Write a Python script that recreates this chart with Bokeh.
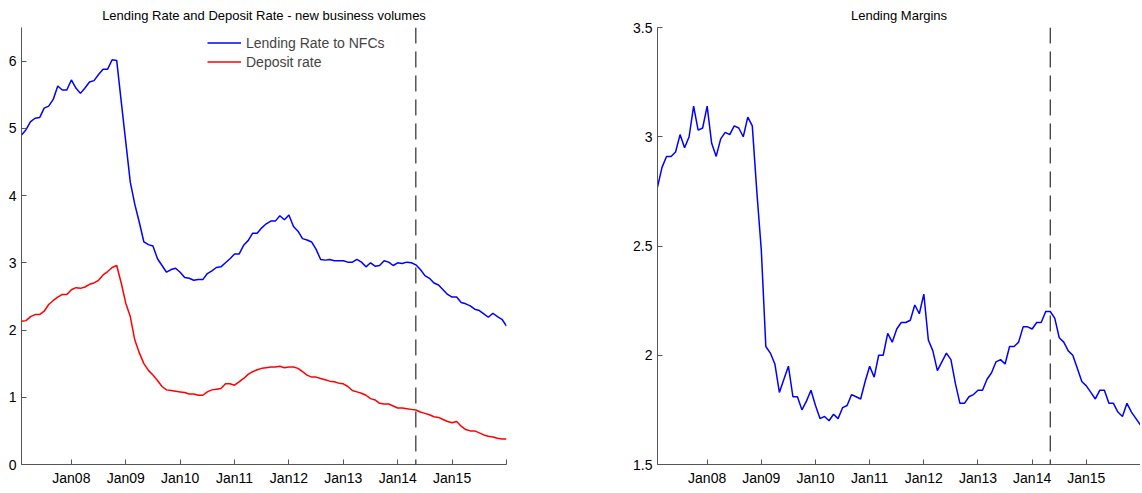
from bokeh.plotting import figure
from bokeh.layouts import row
from bokeh.models import Legend, LegendItem, Span, Range1d, FixedTicker
from bokeh.embed import file_html
from bokeh.resources import INLINE

# monthly data, Feb 2007 .. Jan 2016
lending_rate = [
    4.90, 4.98, 5.10, 5.15, 5.16, 5.30, 5.33, 5.43, 5.63, 5.57, 5.57,
    5.72, 5.60, 5.52, 5.60, 5.69, 5.71, 5.80, 5.88, 5.88, 6.02, 6.01, 5.40,
    4.80, 4.20, 3.87, 3.60, 3.31, 3.27, 3.25, 3.06, 2.96, 2.86, 2.90, 2.92,
    2.86, 2.78, 2.77, 2.74, 2.75, 2.75, 2.84, 2.88, 2.93, 2.94, 3.00, 3.06,
    3.13, 3.13, 3.26, 3.33, 3.44, 3.44, 3.52, 3.58, 3.62, 3.62, 3.70, 3.64,
    3.71, 3.54, 3.47, 3.36, 3.34, 3.31, 3.20, 3.05, 3.04, 3.05, 3.03, 3.03,
    3.03, 3.01, 3.01, 3.05, 3.01, 2.94, 3.00, 2.95, 2.96, 3.03, 3.01, 2.96,
    3.00, 2.99, 3.01, 3.00, 2.97, 2.90, 2.81, 2.77, 2.70, 2.67, 2.60, 2.53,
    2.49, 2.49, 2.41, 2.39, 2.36, 2.31, 2.29, 2.24, 2.19, 2.25, 2.20, 2.16,
    2.06,
]
deposit_rate = [
    2.13, 2.14, 2.20, 2.23, 2.23, 2.28, 2.38, 2.44, 2.49, 2.53, 2.53,
    2.60, 2.63, 2.62, 2.64, 2.68, 2.70, 2.74, 2.82, 2.87, 2.93, 2.96, 2.70,
    2.40, 2.20, 1.85, 1.66, 1.50, 1.40, 1.33, 1.25, 1.16, 1.11, 1.10, 1.09,
    1.08, 1.07, 1.05, 1.05, 1.03, 1.03, 1.08, 1.11, 1.12, 1.13, 1.20, 1.20,
    1.18, 1.23, 1.28, 1.34, 1.38, 1.41, 1.43, 1.44, 1.45, 1.45, 1.46, 1.44,
    1.45, 1.45, 1.43, 1.38, 1.33, 1.30, 1.30, 1.28, 1.26, 1.24, 1.23, 1.21,
    1.20, 1.16, 1.10, 1.08, 1.06, 1.03, 0.98, 0.96, 0.91, 0.90, 0.90, 0.87,
    0.84, 0.84, 0.83, 0.82, 0.81, 0.78, 0.76, 0.74, 0.71, 0.70, 0.67, 0.64,
    0.62, 0.64, 0.57, 0.52, 0.50, 0.50, 0.47, 0.44, 0.42, 0.41, 0.39, 0.38,
    0.38,
]
lending_margin = [
    2.77, 2.86, 2.91, 2.91, 2.93, 3.01, 2.95, 3.00, 3.14, 3.03, 3.04,
    3.14, 2.97, 2.91, 2.99, 3.02, 3.01, 3.05, 3.04, 3.00, 3.09, 3.05, 2.75,
    2.48, 2.04, 2.01, 1.96, 1.83, 1.89, 1.95, 1.81, 1.81, 1.75, 1.79, 1.84,
    1.77, 1.71, 1.72, 1.70, 1.73, 1.71, 1.76, 1.77, 1.82, 1.81, 1.80, 1.88,
    1.95, 1.90, 2.00, 2.00, 2.10, 2.06, 2.12, 2.15, 2.15, 2.16, 2.23, 2.19,
    2.28, 2.07, 2.02, 1.93, 1.97, 2.01, 1.98, 1.87, 1.78, 1.78, 1.81, 1.82,
    1.84, 1.84, 1.89, 1.92, 1.97, 1.98, 1.96, 2.04, 2.04, 2.06, 2.13, 2.13,
    2.12, 2.15, 2.15, 2.20, 2.20, 2.17, 2.08, 2.06, 2.02, 2.00, 1.94, 1.88,
    1.86, 1.83, 1.80, 1.84, 1.84, 1.78, 1.78, 1.74, 1.72, 1.78, 1.74, 1.71,
    1.68,
]
year_labels = ["Jan08", "Jan09", "Jan10", "Jan11", "Jan12", "Jan13", "Jan14", "Jan15", ""]
break_month = 87  # May 2014

FONT = "Liberation Sans"
year_ticks = [11 + 12 * i for i in range(len(year_labels))]


def style(p, title):
    p.title.text = title
    p.title.align = "center"
    p.title.text_font = FONT
    p.title.text_font_size = "13px"
    p.title.text_font_style = "normal"
    p.title.text_color = "black"
    p.grid.visible = False
    p.outline_line_color = None
    p.background_fill_color = "white"
    for ax in (p.xaxis[0], p.yaxis[0]):
        ax.major_label_text_font = FONT
        ax.major_label_text_font_size = "14px"
        ax.major_label_text_color = "black"
        ax.axis_line_color = "#555555"
        ax.major_tick_line_color = "#555555"
        ax.major_tick_in = 5
        ax.major_tick_out = 0
        ax.minor_tick_line_color = None
    p.xaxis.ticker = FixedTicker(ticks=year_ticks)
    p.xaxis.major_label_overrides = {t: l for t, l in zip(year_ticks, year_labels)}
    p.add_layout(Span(location=break_month, dimension="height", line_color="black",
                      line_width=1, line_dash="16 8"))


n = len(lending_rate)
left = figure(frame_width=485, frame_height=437, output_backend="svg", toolbar_location=None,
              x_range=Range1d(0, n - 1), y_range=Range1d(0, 6.5),
              min_border_left=21, min_border_right=10, min_border_top=26, min_border_bottom=20)
style(left, "Lending Rate and Deposit Rate - new business volumes")
l1 = left.line(list(range(len(lending_rate))), lending_rate, line_color="blue", line_width=1.5)
l2 = left.line(list(range(len(deposit_rate))), deposit_rate, line_color="red", line_width=1.5)
left.yaxis.ticker = FixedTicker(ticks=[0, 1, 2, 3, 4, 5, 6])
legend = Legend(items=[LegendItem(label="Lending Rate to NFCs", renderers=[l1]),
                       LegendItem(label="Deposit rate", renderers=[l2])],
                location=(186, 393), border_line_color=None, background_fill_alpha=0,
                label_text_font=FONT, label_text_font_size="14px", spacing=0,
                label_height=19, glyph_height=19, glyph_width=34, padding=2, margin=0)
left.add_layout(legend)

right = figure(frame_width=483, frame_height=437, output_backend="svg", toolbar_location=None,
               x_range=Range1d(0, len(lending_margin) - 1), y_range=Range1d(1.5, 3.5),
               min_border_left=141, min_border_right=0, min_border_top=26, min_border_bottom=20)
style(right, "Lending Margins")
right.line(list(range(len(lending_margin))), lending_margin, line_color="blue", line_width=1.5)
right.yaxis.ticker = FixedTicker(ticks=[1.5, 2, 2.5, 3, 3.5])
right.yaxis.major_label_overrides = {1.5: "1.5", 2: "2", 2.5: "2.5", 3: "3", 3.5: "3.5"}

open("out.html", "w").write(file_html(row(left, right), INLINE))
